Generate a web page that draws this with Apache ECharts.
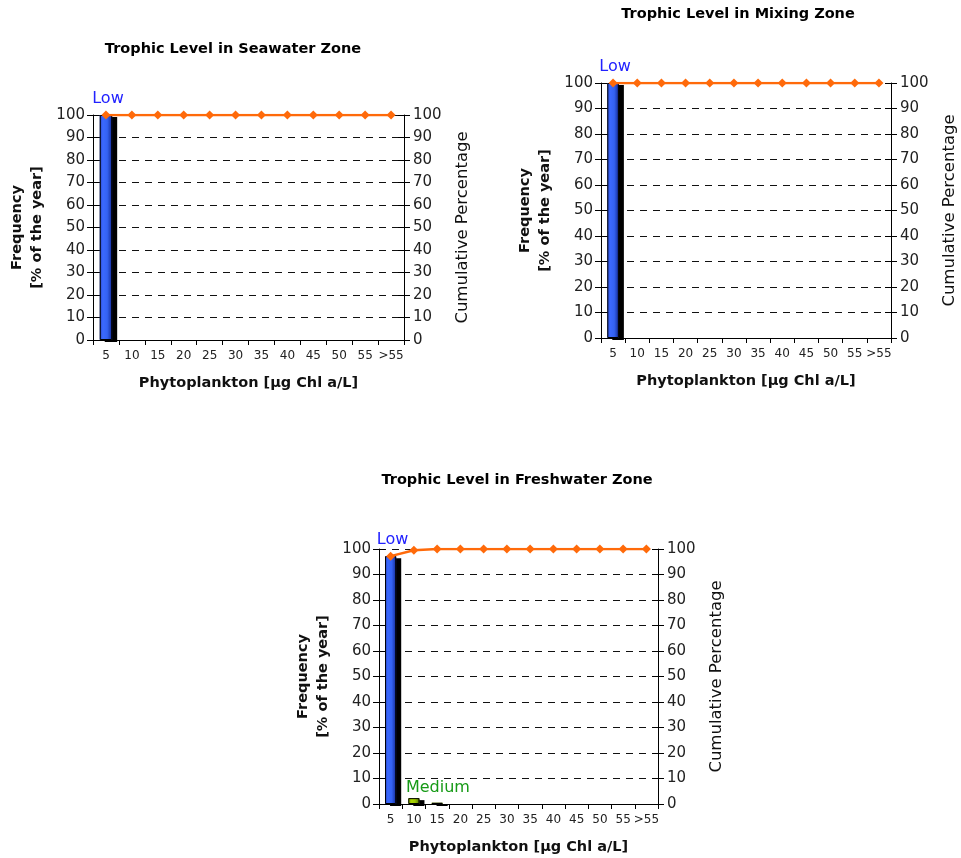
<!DOCTYPE html>
<html>
<head>
<meta charset="utf-8">
<script src="https://cdn.jsdelivr.net/npm/echarts@6/dist/echarts.min.js"></script>
<style>
  html, body { margin: 0; padding: 0; background: #ffffff; }
  #chart { width: 961px; height: 858px; }
</style>
</head>
<body>
<div id="chart"></div>
<script>
// Chlorophyll-a classes (µg Chl a/L) on the horizontal axis
const categories = ['5', '10', '15', '20', '25', '30', '35', '40', '45', '50', '55', '>55'];

// Frequency (% of the year) and cumulative percentage per zone
const seawaterFreq = [100, 0, 0, 0, 0, 0, 0, 0, 0, 0, 0, 0];
const seawaterCum = [100, 100, 100, 100, 100, 100, 100, 100, 100, 100, 100, 100];

const mixingFreq = [100, 0, 0, 0, 0, 0, 0, 0, 0, 0, 0, 0];
const mixingCum = [100, 100, 100, 100, 100, 100, 100, 100, 100, 100, 100, 100];

const freshwaterFreq = [97.2, 2.3, 0.5, 0, 0, 0, 0, 0, 0, 0, 0, 0];
const freshwaterCum = [97.2, 99.5, 100, 100, 100, 100, 100, 100, 100, 100, 100, 100];

// Trophic class of the classes that hold data
const trophicClass = { '5': 'Low', '10': 'Medium', '15': 'Medium' };

const yTicks = { min: 0, max: 100, interval: 10 };

const FONT = '"DejaVu Sans", Verdana, sans-serif';

const zones = [
  {
    title: 'Trophic Level in Seawater Zone',
    freq: seawaterFreq, cum: seawaterCum,
    grid: { left: 93, top: 115, width: 311, height: 225 },
    titleAt: [233, 42]
  },
  {
    title: 'Trophic Level in Mixing Zone',
    freq: mixingFreq, cum: mixingCum,
    grid: { left: 601, top: 83, width: 290, height: 255 },
    titleAt: [738, 7]
  },
  {
    title: 'Trophic Level in Freshwater Zone',
    freq: freshwaterFreq, cum: freshwaterCum,
    grid: { left: 379, top: 549, width: 279, height: 255 },
    titleAt: [517, 473]
  }
];

const classStyle = {
  Low: {
    label: '#2222ff',
    fill: [
      { offset: 0, color: '#2a48c8' },
      { offset: 0.25, color: '#3b69ff' },
      { offset: 0.6, color: '#3462f2' },
      { offset: 1, color: '#132a95' }
    ],
    offset: [2, 0], distance: 8
  },
  Medium: {
    label: '#169a16',
    fill: [
      { offset: 0, color: '#7fa400' },
      { offset: 0.3, color: '#aad600' },
      { offset: 0.6, color: '#9cc800' },
      { offset: 1, color: '#5a7800' }
    ],
    offset: [24, 0], distance: 2
  }
};

const axisLineStyle = { color: '#000', width: 1 };
const grids = [], xAxes = [], yAxes = [], series = [], graphics = [];

zones.forEach((z, gi) => {
  grids.push(Object.assign({ containLabel: false }, z.grid));

  graphics.push({
    type: 'text', x: z.titleAt[0], y: z.titleAt[1],
    style: {
      text: z.title, align: 'center', verticalAlign: 'top',
      font: 'bold 14.5px ' + FONT, fill: '#000'
    }
  });

  // category axis
  const xMain = xAxes.length;
  xAxes.push({
    type: 'category', gridIndex: gi, data: categories, position: 'bottom',
    axisLine: { lineStyle: axisLineStyle },
    axisTick: { show: true, length: 5, lineStyle: axisLineStyle },
    axisLabel: { interval: 0, fontSize: 12, fontFamily: FONT, color: '#222', margin: 10 },
    name: 'Phytoplankton [µg Chl a/L]', nameLocation: 'middle', nameGap: 36,
    nameTextStyle: { fontFamily: FONT, fontSize: 14.5, fontWeight: 'bold', color: '#111' },
    splitLine: { show: false }
  });

  const yLeft = yAxes.length;
  yAxes.push(Object.assign({
    type: 'value', gridIndex: gi, position: 'left',
    axisLine: { show: true, lineStyle: axisLineStyle },
    axisTick: { show: true, length: 6, lineStyle: axisLineStyle },
    axisLabel: { fontSize: 15, fontFamily: FONT, color: '#222', margin: 8 },
    splitLine: { show: true, lineStyle: { color: '#111', width: 1, type: [7, 6] } },
    name: 'Frequency\n[% of the year]', nameLocation: 'middle', nameGap: 46, nameRotate: 90,
    nameTextStyle: { fontFamily: FONT, fontSize: 14.5, fontWeight: 'bold', color: '#111', lineHeight: 20, align: 'center' }
  }, yTicks));
  // inner half of the crossing ticks
  yAxes.push(Object.assign({
    type: 'value', gridIndex: gi, position: 'left',
    axisLine: { show: false },
    axisTick: { show: true, inside: true, length: 6, lineStyle: axisLineStyle },
    axisLabel: { show: false }, splitLine: { show: false }
  }, yTicks));

  const yRight = yAxes.length;
  yAxes.push(Object.assign({
    type: 'value', gridIndex: gi, position: 'right',
    axisLine: { show: true, lineStyle: axisLineStyle },
    axisTick: { show: true, length: 6, lineStyle: axisLineStyle },
    axisLabel: { fontSize: 15, fontFamily: FONT, color: '#222', margin: 9 },
    splitLine: { show: false },
    name: 'Cumulative Percentage', nameLocation: 'middle', nameGap: 50, nameRotate: 90,
    nameTextStyle: { fontFamily: FONT, fontSize: 16.5, color: '#111' }
  }, yTicks));
  yAxes.push(Object.assign({
    type: 'value', gridIndex: gi, position: 'right',
    axisLine: { show: false },
    axisTick: { show: true, inside: true, length: 6, lineStyle: axisLineStyle },
    axisLabel: { show: false }, splitLine: { show: false }
  }, yTicks));

  // frequency bars, coloured by trophic class; the first bar of a class carries its name
  const labelled = {};
  const fillData = z.freq.map((v, i) => {
    if (!(v > 0)) return '-';
    const cls = trophicClass[categories[i]];
    const st = classStyle[cls];
    return {
      value: v,
      itemStyle: { color: new echarts.graphic.LinearGradient(0, 0, 1, 0, st.fill) }
    };
  });
  const outlineData = z.freq.map((v, i) => {
    if (!(v > 0)) return '-';
    const cls = trophicClass[categories[i]];
    const st = classStyle[cls];
    const item = { value: v };
    if (!labelled[cls]) {
      labelled[cls] = true;
      item.label = {
        show: true, position: 'top', formatter: cls,
        color: st.label, fontSize: 16, fontFamily: FONT,
        distance: st.distance, offset: st.offset
      };
    }
    return item;
  });

  // filled body with its dropped shadow
  series.push({
    type: 'bar', xAxisIndex: xMain, yAxisIndex: yLeft,
    data: fillData, barWidth: '48%', z: 3,
    itemStyle: {
      borderWidth: 0,
      shadowColor: '#000', shadowBlur: 0, shadowOffsetX: 5, shadowOffsetY: 2
    },
    emphasis: { disabled: true }, animation: false
  });
  // black outline on top of the body
  series.push({
    type: 'bar', xAxisIndex: xMain, yAxisIndex: yLeft,
    data: outlineData, barWidth: '48%', barGap: '-100%', z: 4,
    itemStyle: { color: 'rgba(0,0,0,0)', borderColor: '#000', borderWidth: 1 },
    emphasis: { disabled: true }, animation: false
  });

  // cumulative percentage line
  series.push({
    type: 'line', xAxisIndex: xMain, yAxisIndex: yRight,
    data: z.cum, symbol: 'diamond', symbolSize: 9, showSymbol: true,
    lineStyle: { color: '#ff6a0a', width: 2.5 },
    itemStyle: { color: '#ff6a0a' },
    z: 5, emphasis: { disabled: true }, animation: false
  });
});

const chart = echarts.init(document.getElementById('chart'), null, { renderer: 'canvas' });
chart.setOption({
  backgroundColor: '#ffffff',
  animation: false,
  grid: grids,
  xAxis: xAxes,
  yAxis: yAxes,
  series: series,
  graphic: graphics
});
</script>
</body>
</html>
